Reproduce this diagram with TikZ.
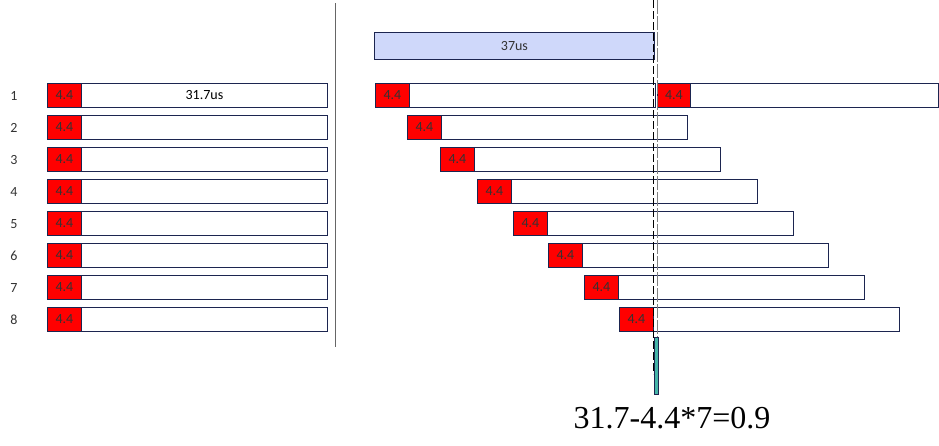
\documentclass[tikz,border=0pt]{standalone}
\usepackage{fontspec}
\setmainfont{Carlito}
\newfontfamily\timesf{Liberation Serif}
\definecolor{bordc}{HTML}{1C2550}
\definecolor{blueb}{HTML}{CFD8FA}
\definecolor{tealc}{HTML}{45B5A8}
\definecolor{txtc}{HTML}{333333}
\begin{document}
\begin{tikzpicture}[x=1pt,y=-1pt,
  redbox/.style={draw=bordc, line width=0.9pt, fill=red, minimum width=34pt, minimum height=24pt, inner sep=0pt, anchor=north west, font=\fontsize{14}{14}\selectfont, text=txtc},
  whitebox/.style={draw=bordc, line width=0.9pt, fill=white, minimum width=246pt, minimum height=24pt, inner sep=0pt, anchor=north west, font=\fontsize{14}{14}\selectfont, text=black},
  numlbl/.style={font=\fontsize{14}{14}\selectfont, text=txtc}]
\useasboundingbox (0,0) rectangle (939,445);
% left column
\foreach \i/\y in {1/83,2/115,3/147,4/179,5/211,6/243,7/275,8/307}{
  \node[numlbl] (n\i) at (14,\y+13) {\i};
  \node[whitebox] (lw\i) at (81,\y) {};
  \node[redbox] (lr\i) at (47,\y) {4.4};
}
\node[font=\fontsize{14}{14}\selectfont] (t317) at (lw1.center) {31.7us};
% separator
\draw[color=black!60, line width=1pt] (335.7,3) coordinate (sepT) -- (335.7,347) coordinate (sepB);
% 37us box
\node[draw=bordc, line width=0.9pt, fill=blueb, minimum width=280pt, minimum height=27pt, inner sep=0pt, anchor=north west, font=\fontsize{14}{14}\selectfont, text=txtc] (b37) at (374,32) {37us};
% right rows
\foreach \i/\x/\y in {1/375/83,2/407/115,3/440/147,4/477/179,5/513/211,6/548/243,7/584/275,8/619/307}{
  \node[whitebox] (rw\i) at (\x+34,\y) {};
  \node[redbox] (rr\i) at (\x,\y) {4.4};
}
\node[whitebox, minimum width=248pt] (rw1b) at (690,83) {};
\node[redbox, minimum width=33pt] (rr1b) at (657,83) {4.4};
% dashed lines
\draw[black, line width=1pt, dash pattern=on 8pt off 3pt] (653.7,0) coordinate (dA) -- (653.7,374) coordinate (dB);
\draw[black!50, line width=1.1pt, dash pattern=on 14pt off 2pt] (657.7,0) coordinate (gA) -- (657.7,376) coordinate (gB);
% teal bar
\node[draw=bordc, line width=0.7pt, fill=tealc, minimum width=3.5pt, minimum height=57pt, inner sep=0pt, anchor=north west] (bar) at (654,337) {};
% formula
\node[font=\timesf\fontsize{32}{32}\selectfont] (form) at (672,418) {31.7-4.4*7=0.9};
\end{tikzpicture}
\end{document}
